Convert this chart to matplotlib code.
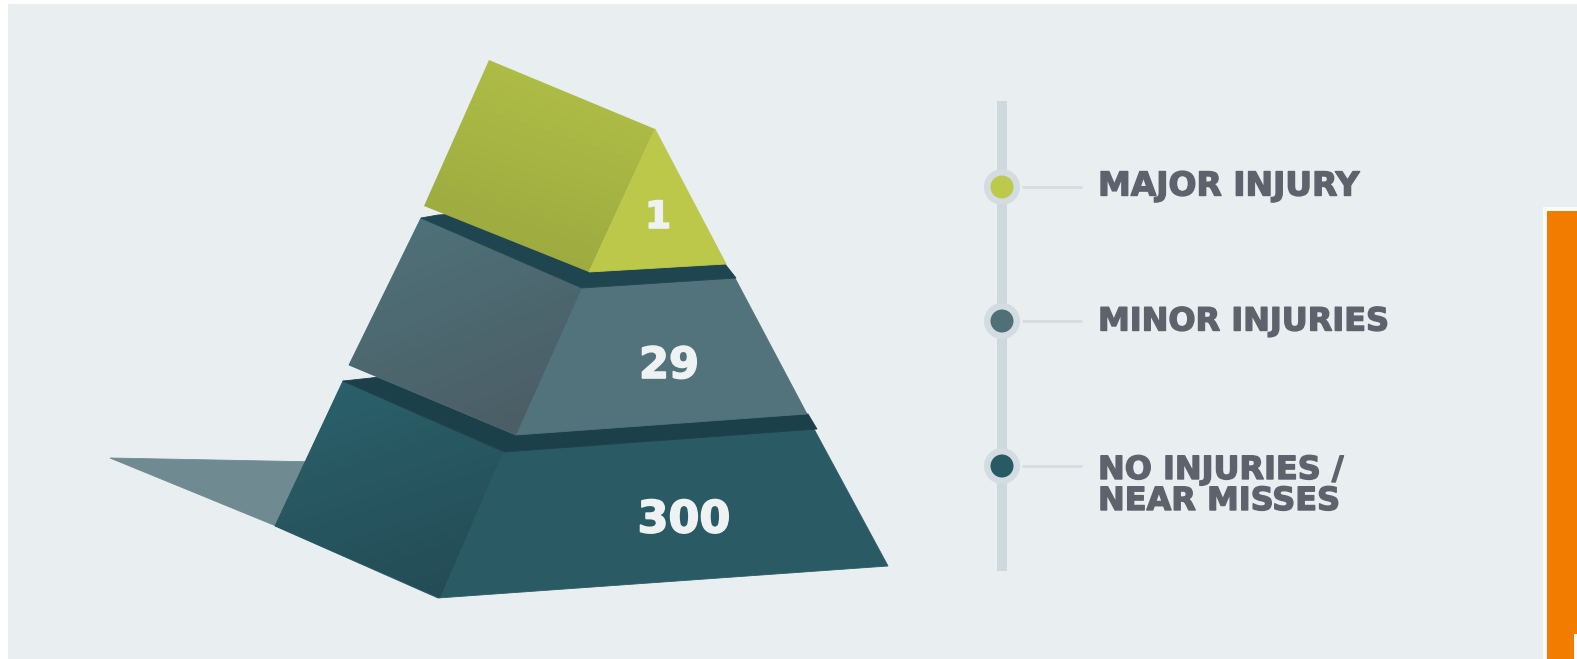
import numpy as np
import matplotlib
matplotlib.use("Agg")
import matplotlib.pyplot as plt
import matplotlib.patheffects as pe
from matplotlib.patches import Polygon, Rectangle, Circle

# ---- data ----
tier_values = ["1", "29", "300"]
tier_labels = ["MAJOR INJURY", "MINOR INJURIES", "NO INJURIES /\nNEAR MISSES"]
tier_colors = ["#bcc94a", "#4f7077", "#285a65"]

W, H = 1577, 659
fig = plt.figure(figsize=(W / 100, H / 100), dpi=100, facecolor="white")
ax = fig.add_axes([0, 0, 1, 1])
ax.set_xlim(0, W)
ax.set_ylim(H, 0)
ax.axis("off")


def poly(pts, color, z=2):
    ax.add_patch(Polygon(pts, closed=True, fc=color, ec=color, lw=0.6, zorder=z))


def grad_poly(pts, c0, c1, angle, z=2):
    """Polygon filled with a linear gradient from c0 to c1 along angle (image coords)."""
    pts = np.array(pts, float)
    x0, y0 = pts.min(0)
    x1, y1 = pts.max(0)
    xx, yy = np.meshgrid(np.linspace(0, 1, 200), np.linspace(0, 1, 200))
    a = np.deg2rad(angle)
    t = xx * np.cos(a) + yy * np.sin(a)
    t = (t - t.min()) / (t.max() - t.min())
    rgb0 = np.array(matplotlib.colors.to_rgb(c0))
    rgb1 = np.array(matplotlib.colors.to_rgb(c1))
    img = rgb0[None, None] * (1 - t[..., None]) + rgb1[None, None] * t[..., None]
    im = ax.imshow(img, extent=(x0, x1, y1, y0), aspect="auto", zorder=z, interpolation="bilinear")
    clip = Polygon(pts, closed=True, transform=ax.transData, fc="none", ec="none")
    ax.add_patch(clip)
    im.set_clip_path(clip)


# background panel and frame
ax.add_patch(Rectangle((8, 4), W - 8, H - 4, fc="#e9eef0", ec="none", zorder=0))
ax.add_patch(Rectangle((1543, 207), W - 1543, H - 207, fc="#fafbfb", ec="none", zorder=1))
ax.add_patch(Rectangle((1547, 211), W - 1547, H - 211, fc="#f27c00", ec="none", zorder=1.5))
ax.add_patch(Rectangle((1574, 634), 3, 25, fc="#fafbfb", ec="none", zorder=1.6))

# cast shadow (runs under the pyramid so no seam shows)
poly([(110, 458), (320, 462), (276, 526)], "#6f8a91", 1.8)

# bottom tier
poly([(343, 381), (503, 452), (814, 429), (888, 566), (438, 598), (275, 526)], "#2a5b65", 2)
grad_poly([(343, 381), (503, 452), (440, 598), (275, 526)], "#2b626c", "#234a54", 70, 2.1)
poly([(343, 381), (371, 378), (385, 376), (516, 430), (808, 414), (817, 429), (504, 452)], "#1c4049", 2.5)

# middle tier
poly([(421, 218), (582, 288), (735, 278), (807, 414), (516, 435), (349, 365)], "#52737c", 3)
grad_poly([(421, 218), (582, 288), (516, 435), (349, 365)], "#4f737b", "#4b5b63", 65, 3.1)
poly([(421, 218), (438, 215), (454, 214), (589, 272), (725, 264), (736, 278), (582, 288)], "#1f4650", 3.5)

# top tier
grad_poly([(489, 60), (655, 129), (589, 272), (424, 206)], "#b3c248", "#98a63e", 110, 4)
poly([(655, 129), (726, 264), (589, 272)], "#bbc84a", 4.1)

# values on the tiers
value_pos = [(658, 218), (669, 366), (684, 520)]
for v, (x, y), fs in zip(tier_values, value_pos, [27, 31, 32]):
    ax.text(x, y, v, color="#eef2f3", fontsize=fs, fontweight="bold", family="DejaVu Sans",
            ha="center", va="center", zorder=6,
            path_effects=[pe.Stroke(linewidth=1.2, foreground="#eef2f3")])

# legend rail
ax.add_patch(Rectangle((997, 101), 10, 470, fc="#ced9dd", ec="none", zorder=2))
rail_y = [187, 321, 466]
text_y = [186, 322, 486]
label_sizes = [23.7, 23, 23]
for y, ty, lab, col, fs in zip(rail_y, text_y, tier_labels, tier_colors, label_sizes):
    ax.add_patch(Circle((1002, y), 18, fc="#d3dde1", ec="none", zorder=3))
    ax.add_patch(Circle((1002, y), 11.5, fc=col, ec="none", zorder=4))
    ax.plot([1022, 1082], [y, y], color="#d3dde1", lw=2, zorder=3, solid_capstyle="butt")
    ax.text(1098, ty, lab, color="#5c636d", fontsize=fs, fontweight="bold", family="DejaVu Sans",
            ha="left", va="center", linespacing=1.0, zorder=5,
            path_effects=[pe.Stroke(linewidth=1.0, foreground="#5c636d")])

fig.savefig("out.png", dpi=100, facecolor="white")
